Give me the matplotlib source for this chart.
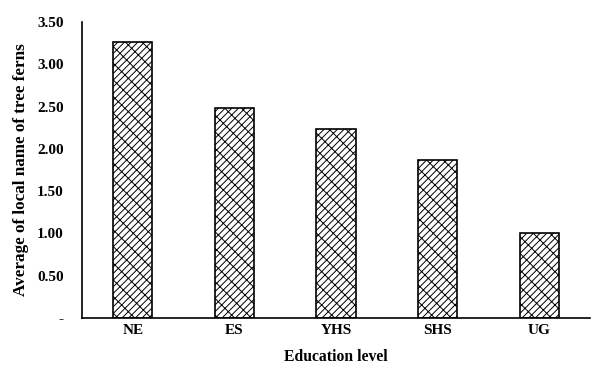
import matplotlib.pyplot as plt

categories = ["NE", "ES", "YHS", "SHS", "UG"]
values = [3.26, 2.48, 2.23, 1.87, 1.00]
yticks = [0, 0.5, 1.0, 1.5, 2.0, 2.5, 3.0, 3.5]
ytick_labels = ["-", "0.50", "1.00", "1.50", "2.00", "2.50", "3.00", "3.50"]

plt.rcParams['font.family'] = ['Liberation Serif', 'DejaVu Serif']
plt.rcParams['font.weight'] = 'bold'
plt.rcParams['hatch.linewidth'] = 0.7

fig = plt.figure(figsize=(5.92, 3.71), dpi=100)
ax = fig.add_axes([82 / 592, 53 / 371, 508 / 592, 296 / 371])

x = range(len(categories))
# dense "/" lines with sparser "\" ones, close to the brick-like fill
ax.bar(x, values, width=0.385, color='white', edgecolor='black',
       linewidth=1.2, hatch='/' * 5 + '\\' * 2)

ax.set_xlim(-0.5, len(categories) - 0.5)
ax.set_ylim(0, 3.5)
ax.set_xticks(list(x))
ax.set_xticklabels(categories, fontsize=11, fontweight='bold')
ax.set_yticks(yticks)
ax.set_yticklabels(ytick_labels, fontsize=11, fontweight='bold')
ax.tick_params(axis='x', length=0, pad=4)
ax.tick_params(axis='y', length=0, pad=13)

for s in ['top', 'right']:
    ax.spines[s].set_visible(False)
ax.spines['left'].set_linewidth(1.2)
ax.spines['bottom'].set_linewidth(1.2)

# axis titles, placed by hand to match the original layout
ax.set_xlabel("Education level", fontsize=11.3, fontweight='bold')
ax.xaxis.label.set_va('center')
ax.xaxis.set_label_coords(0.5, -(357 - 318) / 296)
ax.set_ylabel("Average of local name of tree ferns", fontsize=12.3,
              fontweight='bold')
ax.yaxis.label.set_va('center')
ax.yaxis.set_label_coords(-(82 - 21) / 508, 0.5)

fig.savefig("out.png", dpi=100)
